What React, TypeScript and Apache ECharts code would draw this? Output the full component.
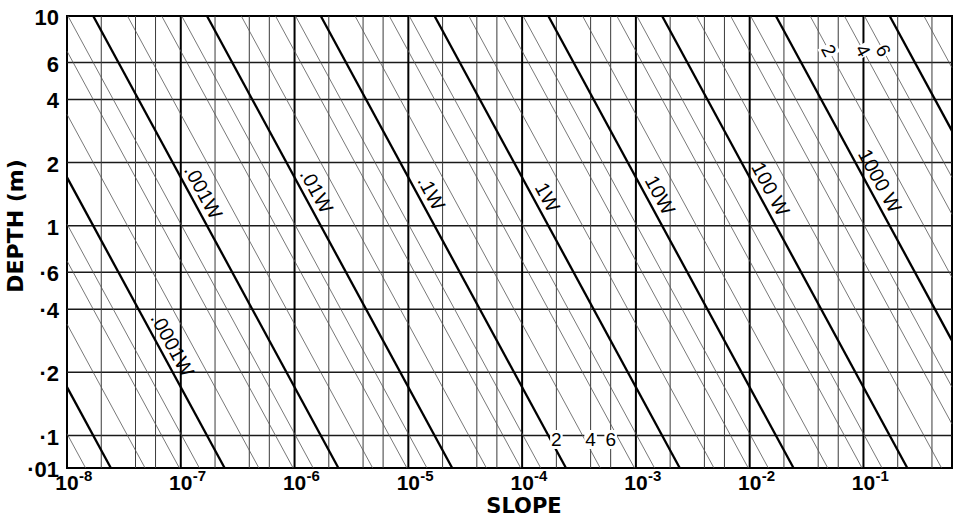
import { useEffect, useRef } from 'react';
import * as echarts from 'echarts';

// Axis extents: slope (dimensionless) and flow depth in metres
const SLOPE_RANGE = [1e-8, 0.6];
const DEPTH_RANGE = [0.07, 10];

// Vertical grid: slope decades plus 2, 4, 6 subdivisions
const slopeDecades = [1e-8, 1e-7, 1e-6, 1e-5, 1e-4, 1e-3, 1e-2, 1e-1];
const slopeExponents = ['-8', '-7', '-6', '-5', '-4', '-3', '-2', '-1'];
const subMultipliers = [2, 4, 6];

// Horizontal grid and the depth scale
const depthGrid = [6, 4, 2, 1, 0.6, 0.4, 0.2, 0.1];
const depthTickValues = [10, 6, 4, 2, 1, 0.6, 0.4, 0.2, 0.1, 0.07];
const depthTickLabels = ['10', '6', '4', '2', '1', '·6', '·4', '·2', '·1', '·01'];

// Stream power isolines: slope × depth = POWER_FACTOR × power (W)
const POWER_FACTOR = 1.7e-4;
const majorPowers = [1e-5, 1e-4, 1e-3, 1e-2, 1e-1, 1, 10, 100, 1000, 10000];
const minorPowerDecades = [1e-6, 1e-5, 1e-4, 1e-3, 1e-2, 1e-1, 1, 10, 100, 1000, 10000];

// Labelled isolines and the depth at which each label sits
const powerLabelValues = [1e-4, 1e-3, 1e-2, 1e-1, 1, 10, 100, 1000];
const powerLabelTexts = ['.0001W', '.001W', '.01W', '.1W', '1W', '10W', '100 W', '1000 W'];
const powerLabelDepths = [0.253, 1.355, 1.37, 1.34, 1.28, 1.31, 1.4, 1.53];

// Keys for the 2-4-6 subdivisions
const keyTexts = ['2', '4', '6'];
const keyPowers = [2000, 4000, 6000];
const KEY_POWER_DEPTH = 6.85;
const keySlopes = [2e-4, 4e-4, 6e-4];
const KEY_SLOPE_DEPTH = 0.1;

const W = 960;
const H = 518;
const GRID = { left: 67, right: 8, top: 16, bottom: 50 };
const FONT = '"Liberation Sans", Arial, Helvetica, sans-serif';
const TITLE_FONT = '"DejaVu Sans", "Liberation Sans", Arial, sans-serif';

// On-screen angle of the isolines (log-log, exponent -1)
const pxPerDecadeX = (W - GRID.left - GRID.right) / Math.log10(SLOPE_RANGE[1] / SLOPE_RANGE[0]);
const pxPerDecadeY = (H - GRID.top - GRID.bottom) / Math.log10(DEPTH_RANGE[1] / DEPTH_RANGE[0]);
const LINE_ANGLE = Math.atan(pxPerDecadeY / pxPerDecadeX);

function isoline(power: number): number[][] | null {
  const c = POWER_FACTOR * power;
  const s0 = Math.max(SLOPE_RANGE[0], c / DEPTH_RANGE[1]);
  const s1 = Math.min(SLOPE_RANGE[1], c / DEPTH_RANGE[0]);
  if (s0 >= s1) return null;
  return [
    [s0, c / s0],
    [s1, c / s1],
  ];
}

function lineSeries(points: number[][], width: number, color: string, z: number) {
  return {
    type: 'line',
    data: points,
    symbol: 'none',
    showSymbol: false,
    silent: true,
    clip: true,
    z,
    lineStyle: { width, color, cap: 'butt' },
  };
}

interface TextOpts {
  dx?: number;
  dy?: number;
  rotation?: number;
  fontSize: number;
  fontWeight?: string;
  align?: string;
  background?: boolean;
}

function textSeries(points: number[][], texts: string[], o: TextOpts) {
  return {
    type: 'custom',
    coordinateSystem: 'cartesian2d',
    data: points,
    silent: true,
    clip: false,
    z: 20,
    renderItem: (params: any, api: any) => {
      const p = api.coord([api.value(0), api.value(1)]);
      return {
        type: 'text',
        x: p[0] + (o.dx || 0),
        y: p[1] + (o.dy || 0),
        rotation: o.rotation || 0,
        style: {
          text: texts[params.dataIndex],
          fontSize: o.fontSize,
          fontWeight: o.fontWeight || 'normal',
          fontFamily: FONT,
          fill: '#000',
          align: o.align || 'center',
          verticalAlign: 'middle',
          backgroundColor: o.background ? '#fff' : undefined,
          padding: o.background ? [0, 1, 0, 1] : undefined,
        },
      };
    },
  };
}

function buildOption() {
  const series: any[] = [];

  // horizontal grid
  depthGrid.forEach((d) => {
    series.push(lineSeries([[SLOPE_RANGE[0], d], [SLOPE_RANGE[1], d]], 1.5, '#1a1a1a', 2));
  });

  // vertical grid
  slopeDecades.forEach((s, i) => {
    if (i > 0) {
      series.push(lineSeries([[s, DEPTH_RANGE[0]], [s, DEPTH_RANGE[1]]], 2, '#000', 3));
    }
    subMultipliers.forEach((m) => {
      const v = s * m;
      if (v < SLOPE_RANGE[1]) {
        series.push(lineSeries([[v, DEPTH_RANGE[0]], [v, DEPTH_RANGE[1]]], 1, '#3a3a3a', 2));
      }
    });
  });

  // minor isolines (2, 4, 6 × each decade of power)
  minorPowerDecades.forEach((p) => {
    subMultipliers.forEach((m) => {
      const pts = isoline(p * m);
      if (pts) series.push(lineSeries(pts, 0.8, '#555', 4));
    });
  });

  // major isolines
  majorPowers.forEach((p) => {
    const pts = isoline(p);
    if (pts) series.push(lineSeries(pts, 2.3, '#000', 5));
  });

  // isoline labels, set just beside each line
  const off = 13;
  series.push(
    textSeries(
      powerLabelValues.map((p, i) => [(POWER_FACTOR * p) / powerLabelDepths[i], powerLabelDepths[i]]),
      powerLabelTexts,
      {
        dx: off * Math.sin(LINE_ANGLE),
        dy: -off * Math.cos(LINE_ANGLE),
        rotation: -LINE_ANGLE,
        fontSize: 20,
      }
    )
  );

  // 2-4-6 keys on the isolines
  series.push(
    textSeries(
      keyPowers.map((p) => [(POWER_FACTOR * p) / KEY_POWER_DEPTH, KEY_POWER_DEPTH]),
      keyTexts,
      { rotation: -LINE_ANGLE, fontSize: 19, background: true }
    )
  );

  // 2-4-6 keys on the slope subdivisions
  series.push(
    textSeries(
      keySlopes.map((s) => [s, KEY_SLOPE_DEPTH]),
      keyTexts,
      { dy: 4, fontSize: 19, background: true }
    )
  );

  // depth scale
  series.push(
    textSeries(
      depthTickValues.map((d) => [SLOPE_RANGE[0], d]),
      depthTickLabels,
      { dx: -8, dy: 1.5, fontSize: 22, fontWeight: 'bold', align: 'right' }
    )
  );

  // slope scale: 10 with superscript exponent
  series.push({
    type: 'custom',
    coordinateSystem: 'cartesian2d',
    data: slopeDecades.map((s) => [s, DEPTH_RANGE[0]]),
    silent: true,
    clip: false,
    z: 20,
    renderItem: (params: any, api: any) => {
      const p = api.coord([api.value(0), api.value(1)]);
      return {
        type: 'group',
        x: p[0],
        y: p[1],
        children: [
          {
            type: 'text',
            x: 0,
            y: 14,
            style: {
              text: '10',
              fontSize: 21,
              fontWeight: 'bold',
              fontFamily: FONT,
              fill: '#000',
              align: 'center',
              verticalAlign: 'middle',
            },
          },
          {
            type: 'text',
            x: 12,
            y: 7,
            style: {
              text: slopeExponents[params.dataIndex],
              fontSize: 15,
              fontWeight: 'bold',
              fontFamily: FONT,
              fill: '#000',
              align: 'left',
              verticalAlign: 'middle',
            },
          },
        ],
      };
    },
  });

  return {
    animation: false,
    backgroundColor: '#fff',
    grid: {
      left: GRID.left,
      right: GRID.right,
      top: GRID.top,
      bottom: GRID.bottom,
      show: true,
      borderColor: '#000',
      borderWidth: 2,
      backgroundColor: 'transparent',
      containLabel: false,
    },
    xAxis: {
      type: 'log',
      logBase: 10,
      min: SLOPE_RANGE[0],
      max: SLOPE_RANGE[1],
      axisLine: { show: false },
      axisTick: { show: false },
      axisLabel: { show: false },
      splitLine: { show: false },
    },
    yAxis: {
      type: 'log',
      logBase: 10,
      min: DEPTH_RANGE[0],
      max: DEPTH_RANGE[1],
      axisLine: { show: false },
      axisTick: { show: false },
      axisLabel: { show: false },
      splitLine: { show: false },
    },
    graphic: [
      {
        type: 'text',
        x: 524,
        y: 505.5,
        style: {
          text: 'SLOPE',
          fontSize: 21,
          fontWeight: 'bold',
          fontFamily: TITLE_FONT,
          fill: '#000',
          align: 'center',
          verticalAlign: 'middle',
        },
      },
      {
        type: 'text',
        x: 15,
        y: 226,
        rotation: Math.PI / 2,
        style: {
          text: 'DEPTH (m)',
          fontSize: 22,
          fontWeight: 'bold',
          fontFamily: TITLE_FONT,
          fill: '#000',
          align: 'center',
          verticalAlign: 'middle',
        },
      },
    ],
    series,
  };
}

export default function App() {
  const ref = useRef<HTMLDivElement>(null);

  useEffect(() => {
    if (!ref.current) return;
    const chart = echarts.init(ref.current, null, { renderer: 'svg' });
    chart.setOption(buildOption() as any);
    return () => chart.dispose();
  }, []);

  return (
    <div
      ref={ref}
      style={{ position: 'fixed', left: 0, top: 0, width: W, height: H, background: '#fff' }}
    />
  );
}
